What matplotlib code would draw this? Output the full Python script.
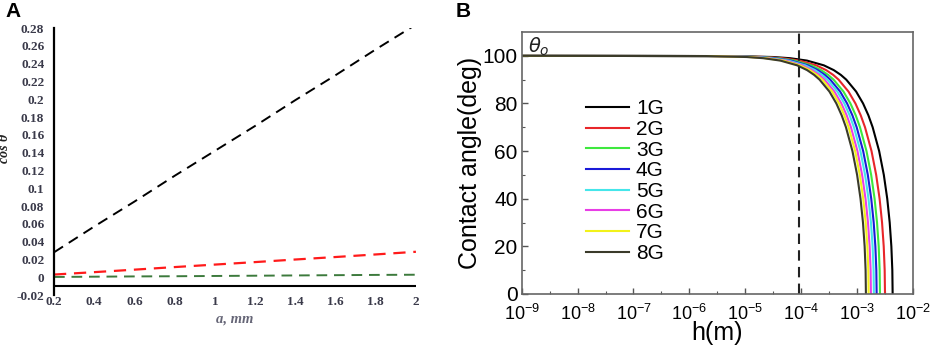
import matplotlib
matplotlib.use("Agg")
import matplotlib.pyplot as plt
from matplotlib.ticker import FixedLocator, NullFormatter

# ---------------- Panel A data ----------------
a_mm = [0.2, 0.4, 0.6, 0.8, 1.0, 1.2, 1.4, 1.6, 1.8, 2.0]
cos_black = [0.028, 0.057, 0.085, 0.114, 0.142, 0.170, 0.199, 0.227, 0.256, 0.284]
cos_red = [0.0030, 0.0057, 0.0085, 0.0114, 0.0142, 0.0170, 0.0199, 0.0227, 0.0256, 0.0286]
cos_green = [0.0003, 0.0006, 0.0009, 0.0011, 0.0014, 0.0017, 0.0020, 0.0023, 0.0026, 0.0028]
a_ticks = [0.2, 0.4, 0.6, 0.8, 1.0, 1.2, 1.4, 1.6, 1.8, 2.0]
a_ticklabels = ["0.2", "0.4", "0.6", "0.8", "1", "1.2", "1.4", "1.6", "1.8", "2"]
cos_ticks = [-0.02, 0, 0.02, 0.04, 0.06, 0.08, 0.1, 0.12, 0.14, 0.16, 0.18, 0.2, 0.22, 0.24, 0.26, 0.28]
cos_ticklabels = ["-0.02", "0", "0.02", "0.04", "0.06", "0.08", "0.1", "0.12", "0.14",
                  "0.16", "0.18", "0.2", "0.22", "0.24", "0.26", "0.28"]

# ---------------- Panel B data ----------------
# contact-angle levels and the heights h (m) at which each curve crosses them
theta_levels = [100, 99.9, 99.5, 99, 98, 96, 94, 92, 90, 85, 80, 75, 70, 60, 50, 40, 30, 20, 10, 0]
h_1G = [1e-9, 6.15e-6, 3.17e-5, 6.35e-5, 1.272e-4, 2.55e-4, 3.83e-4, 5.12e-4, 6.41e-4, 9.62e-4,
        1.281e-3, 1.596e-3, 1.902e-3, 2.485e-3, 3.012e-3, 3.467e-3, 3.836e-3, 4.107e-3, 4.274e-3, 4.33e-3]
h_2G = [1e-9, 4.49e-6, 2.32e-5, 4.64e-5, 9.28e-5, 1.861e-4, 2.797e-4, 3.736e-4, 4.676e-4, 7.022e-4,
        9.351e-4, 1.164e-3, 1.388e-3, 1.814e-3, 2.198e-3, 2.530e-3, 2.799e-3, 2.998e-3, 3.119e-3, 3.16e-3]
h_3G = [1e-9, 3.65e-6, 1.88e-5, 3.77e-5, 7.55e-5, 1.513e-4, 2.275e-4, 3.038e-4, 3.803e-4, 5.711e-4,
        7.605e-4, 9.470e-4, 1.129e-3, 1.475e-3, 1.788e-3, 2.058e-3, 2.277e-3, 2.438e-3, 2.537e-3, 2.57e-3]
h_4G = [1e-9, 3.18e-6, 1.64e-5, 3.29e-5, 6.58e-5, 1.319e-4, 1.983e-4, 2.648e-4, 3.314e-4, 4.978e-4,
        6.628e-4, 8.254e-4, 9.842e-4, 1.286e-3, 1.558e-3, 1.793e-3, 1.984e-3, 2.125e-3, 2.211e-3, 2.24e-3]
h_5G = [1e-9, 2.84e-6, 1.47e-5, 2.93e-5, 5.88e-5, 1.178e-4, 1.770e-4, 2.364e-4, 2.959e-4, 4.444e-4,
        5.918e-4, 7.370e-4, 8.787e-4, 1.148e-3, 1.391e-3, 1.601e-3, 1.772e-3, 1.897e-3, 1.974e-3, 2.0e-3]
h_6G = [1e-9, 2.51e-6, 1.30e-5, 2.60e-5, 5.20e-5, 1.042e-4, 1.567e-4, 2.093e-4, 2.619e-4, 3.933e-4,
        5.238e-4, 6.522e-4, 7.777e-4, 1.016e-3, 1.231e-3, 1.417e-3, 1.568e-3, 1.679e-3, 1.747e-3, 1.77e-3]
h_7G = [1e-9, 2.29e-6, 1.18e-5, 2.36e-5, 4.73e-5, 9.48e-5, 1.425e-4, 1.903e-4, 2.382e-4, 3.578e-4,
        4.764e-4, 5.933e-4, 7.074e-4, 9.241e-4, 1.120e-3, 1.289e-3, 1.426e-3, 1.527e-3, 1.589e-3, 1.61e-3]
h_8G = [1e-9, 2.04e-6, 1.06e-5, 2.11e-5, 4.23e-5, 8.48e-5, 1.275e-4, 1.702e-4, 2.131e-4, 3.200e-4,
        4.261e-4, 5.306e-4, 6.327e-4, 8.265e-4, 1.002e-3, 1.153e-3, 1.276e-3, 1.366e-3, 1.421e-3, 1.44e-3]
series_names = ["1G", "2G", "3G", "4G", "5G", "6G", "7G", "8G"]
series_h = [h_1G, h_2G, h_3G, h_4G, h_5G, h_6G, h_7G, h_8G]
series_colors = ["#000000", "#e8262a", "#3ee83e", "#1a1ad8", "#45e6ea", "#e83ee6", "#f2f21a", "#3a3a2a"]
h_dashed = 9e-5
x_ticks_B = [1e-9, 1e-8, 1e-7, 1e-6, 1e-5, 1e-4, 1e-3, 1e-2]
x_ticklabels_B = [r"$\mathdefault{10^{-9}}$", r"$\mathdefault{10^{-8}}$", r"$\mathdefault{10^{-7}}$",
                  r"$\mathdefault{10^{-6}}$", r"$\mathdefault{10^{-5}}$", r"$\mathdefault{10^{-4}}$",
                  r"$\mathdefault{10^{-3}}$", r"$\mathdefault{10^{-2}}$"]
y_ticks_B = [0, 20, 40, 60, 80, 100]

fig = plt.figure(figsize=(9.41, 3.51), dpi=100)

# ================= Panel A =================
axA = fig.add_axes([0.0574, 0.1595, 0.3846, 0.7605])
serif = ["Liberation Serif", "DejaVu Serif"]
dash = (0, (5.5, 3.5))
axA.plot(a_mm, cos_black, color="black", lw=1.4, linestyle=dash)
axA.plot(a_mm, cos_red, color="#ff1a1a", lw=1.6, linestyle=dash)
axA.plot(a_mm, cos_green, color="#3c7a3c", lw=1.4, linestyle=dash)
axA.axhline(-0.01, color="black", lw=1.5)
axA.set_xlim(0.2, 2.0)
axA.set_ylim(-0.02, 0.28)
for s in ["top", "right", "bottom"]:
    axA.spines[s].set_visible(False)
axA.spines["left"].set_linewidth(1.6)
axA.set_xticks(a_ticks)
axA.set_xticklabels(a_ticklabels, fontfamily=serif, fontsize=9.5, fontweight="bold", color="#3a3a4a")
axA.set_yticks(cos_ticks)
axA.set_yticklabels(cos_ticklabels, fontfamily=serif, fontsize=9.5, fontweight="bold", color="#3a3a4a")
axA.tick_params(axis="both", length=0)
axA.tick_params(axis="y", pad=7)
axA.tick_params(axis="x", pad=1)
axA.set_xlabel("a, mm", fontfamily=serif, fontsize=10.5, fontstyle="italic", fontweight="bold",
               color="#666677", labelpad=3)
axA.set_ylabel("cos θ", fontfamily=serif, fontsize=10, fontstyle="italic", fontweight="bold",
               color="#222222")
axA.yaxis.set_label_coords(-0.118, 0.55)
fig.text(0.006, 0.995, "A", fontsize=15, fontweight="bold", family="Liberation Sans", va="top", ha="left")

# ================= Panel B =================
sans = ["Liberation Sans", "DejaVu Sans"]
axB = fig.add_axes([0.5544, 0.1624, 0.4158, 0.7464])
for name, hs, col in zip(series_names, series_h, series_colors):
    axB.plot(hs, theta_levels, color=col, lw=1.5, label=name)
axB.axvline(h_dashed, color="#222222", lw=1.5, linestyle=(0, (5, 3)))
axB.set_xscale("log")
axB.set_xlim(1e-9, 1e-2)
axB.set_ylim(0, 110)
axB.set_xticks(x_ticks_B)
axB.set_xticklabels(x_ticklabels_B, fontfamily=sans, fontsize=13)
axB.xaxis.set_minor_locator(FixedLocator([3.162e-9, 3.162e-8, 3.162e-7, 3.162e-6, 3.162e-5, 3.162e-4, 3.162e-3]))
axB.xaxis.set_minor_formatter(NullFormatter())
axB.set_yticks(y_ticks_B)
axB.set_yticklabels([str(v) for v in y_ticks_B], fontfamily=sans, fontsize=15)
axB.yaxis.set_minor_locator(FixedLocator([10, 30, 50, 70, 90]))
axB.tick_params(axis="both", which="major", direction="in", length=4, width=1, color="#555555", pad=3)
axB.tick_params(axis="both", which="minor", direction="in", length=2.5, width=0.8, color="#555555")
axB.tick_params(axis="x", which="major", pad=7)
for s in axB.spines.values():
    s.set_color("#666666")
    s.set_linewidth(1.2)
axB.set_xlabel("h(m)", fontfamily=sans, fontsize=18, labelpad=-2)
axB.set_ylabel("Contact angle(deg)", fontfamily=sans, fontsize=18, labelpad=0)
axB.text(0.016, 0.985, r"$\theta_o$", transform=axB.transAxes, fontsize=14, va="top", ha="left", color="#222222")
leg = axB.legend(loc="upper left", bbox_to_anchor=(0.143, 0.775), frameon=False, handlelength=2.07,
                 handletextpad=0.33, labelspacing=0.08, prop={"family": sans, "size": 15},
                 borderaxespad=0)
fig.text(0.484, 0.995, "B", fontsize=15, fontweight="bold", family="Liberation Sans", va="top", ha="left")

fig.savefig("out.png", dpi=100)
